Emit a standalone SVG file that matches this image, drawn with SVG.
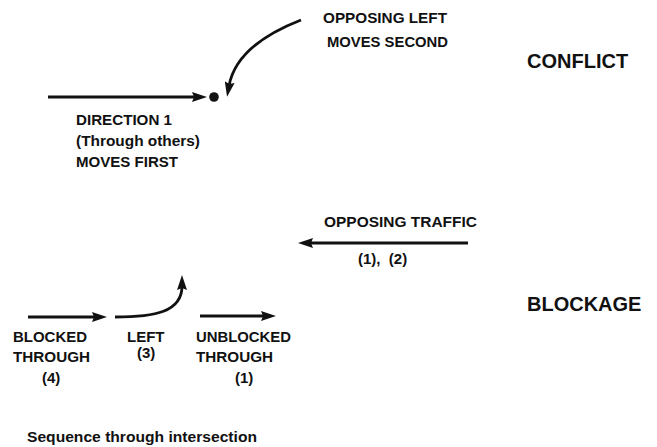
<svg xmlns="http://www.w3.org/2000/svg" width="657" height="447" viewBox="0 0 657 447">
<defs>
<style>
text{font-family:"Liberation Sans",Arial,Helvetica,sans-serif;font-weight:bold;fill:#111;}
.s{font-size:15px;}
.b{font-size:20px;}
.c{fill:none;stroke:#111;stroke-width:2.8;}
</style>
<marker id="ah" viewBox="0 0 15 10" refX="4" refY="5" markerWidth="15" markerHeight="10" markerUnits="userSpaceOnUse" orient="auto">
<path d="M0,0 L15,5 L0,10 L2,5 z" fill="#111"/>
</marker>
</defs>
<rect width="657" height="447" fill="#fff"/>
<g id="connectors">
<line class="c" x1="48" y1="97" x2="196" y2="97" marker-end="url(#ah)"/>
<path class="c" d="M301,20 C260,36 234,58 229,86" marker-end="url(#ah)"/>
<line class="c" x1="468" y1="243" x2="309" y2="243" marker-end="url(#ah)"/>
<line class="c" x1="28" y1="317" x2="96" y2="317" marker-end="url(#ah)"/>
<path class="c" d="M115,317 C155,317 182,312 182,286" marker-end="url(#ah)"/>
<line class="c" x1="200" y1="316" x2="265" y2="316" marker-end="url(#ah)"/>
</g>
<g id="conflict-point"><circle cx="214" cy="97" r="4.8" fill="#111"/></g>
<g id="direction1">
<text class="s" x="76" y="125" textLength="96" lengthAdjust="spacingAndGlyphs">DIRECTION 1</text>
<text class="s" x="76" y="146" textLength="124" lengthAdjust="spacingAndGlyphs">(Through others)</text>
<text class="s" x="76" y="167" textLength="102" lengthAdjust="spacingAndGlyphs">MOVES FIRST</text>
</g>
<g id="opposing-left">
<text class="s" x="323" y="23" textLength="124" lengthAdjust="spacingAndGlyphs">OPPOSING LEFT</text>
<text class="s" x="327" y="47" textLength="121" lengthAdjust="spacingAndGlyphs">MOVES SECOND</text>
</g>
<g id="conflict"><text class="b" x="527" y="68">CONFLICT</text></g>
<g id="opposing-traffic">
<text class="s" x="324" y="227" textLength="153" lengthAdjust="spacingAndGlyphs">OPPOSING TRAFFIC</text>
<text class="s" x="358" y="264" style="white-space:pre">(1),  (2)</text>
</g>
<g id="blockage"><text class="b" x="527" y="311">BLOCKAGE</text></g>
<g id="blocked-through">
<text class="s" x="13" y="342" textLength="74" lengthAdjust="spacingAndGlyphs">BLOCKED</text>
<text class="s" x="13" y="362" textLength="77" lengthAdjust="spacingAndGlyphs">THROUGH</text>
<text class="s" x="42" y="383">(4)</text>
</g>
<g id="left">
<text class="s" x="127" y="342">LEFT</text>
<text class="s" x="137" y="358">(3)</text>
</g>
<g id="unblocked-through">
<text class="s" x="196" y="342" textLength="95" lengthAdjust="spacingAndGlyphs">UNBLOCKED</text>
<text class="s" x="196" y="362" textLength="77" lengthAdjust="spacingAndGlyphs">THROUGH</text>
<text class="s" x="235" y="383">(1)</text>
</g>
<g id="caption"><text class="s" x="27" y="442" textLength="230" lengthAdjust="spacingAndGlyphs">Sequence through intersection</text></g>
</svg>
